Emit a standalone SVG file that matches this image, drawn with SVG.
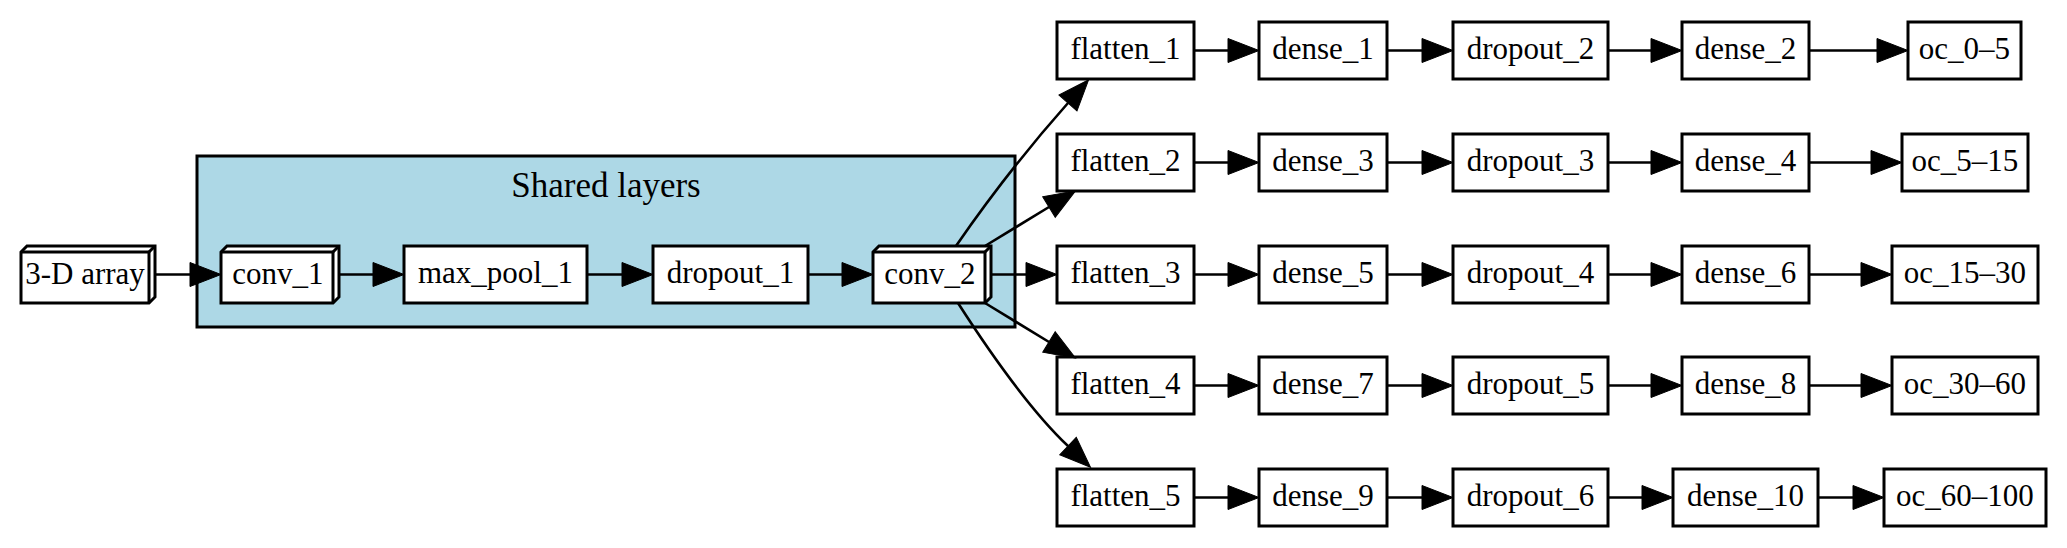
<svg xmlns="http://www.w3.org/2000/svg" width="2067" height="548" viewBox="0 0 2067 548">
<style>
  .bx { fill: #ffffff; stroke: #000000; stroke-width: 3; }
  .ln { fill: none; stroke: #000000; stroke-width: 3; }
  .t { font-family: "Liberation Serif", "Times New Roman", serif; font-size: 31px; fill: #000000; text-anchor: middle; }
  .ct { font-family: "Liberation Serif", "Times New Roman", serif; font-size: 35px; fill: #000000; text-anchor: middle; }
  .e { fill: none; stroke: #000000; stroke-width: 2.6; marker-end: url(#ah); }
</style>
<defs>
  <marker id="ah" markerUnits="userSpaceOnUse" viewBox="0 0 31 24" markerWidth="31" markerHeight="24" refX="0" refY="12" orient="auto" overflow="visible">
    <path d="M0,0 L31,12 L0,24 z" fill="#000000" stroke="#000000" stroke-width="1"/>
  </marker>
</defs>
<rect x="0" y="0" width="2067" height="548" fill="#ffffff"/>

<g id="cluster_shared">
  <rect x="197" y="156" width="818" height="171" fill="#add8e6" stroke="#000000" stroke-width="3"/>
  <text class="ct" x="606" y="197">Shared layers</text>
</g>

<g id="node_input">
  <polygon class="bx" points="21,252 27,246 155,246 155,297 149,303 21,303"/>
  <polyline class="ln" points="21,252 149,252 149,303"/>
  <line class="ln" x1="149" y1="252" x2="155" y2="246"/>
  <text class="t" x="85" y="284">3-D array</text>
</g>
<g id="node_conv_1">
  <polygon class="bx" points="221,252 227,246 339,246 339,297 333,303 221,303"/>
  <polyline class="ln" points="221,252 333,252 333,303"/>
  <line class="ln" x1="333" y1="252" x2="339" y2="246"/>
  <text class="t" x="278" y="284">conv_1</text>
</g>
<g id="node_max_pool_1">
  <rect class="bx" x="404" y="246" width="183" height="57"/>
  <text class="t" x="495.5" y="283">max_pool_1</text>
</g>
<g id="node_dropout_1">
  <rect class="bx" x="653" y="246" width="155" height="57"/>
  <text class="t" x="730.5" y="283">dropout_1</text>
</g>
<g id="node_conv_2">
  <polygon class="bx" points="873,252 879,246 991,246 991,297 985,303 873,303"/>
  <polyline class="ln" points="873,252 985,252 985,303"/>
  <line class="ln" x1="985" y1="252" x2="991" y2="246"/>
  <text class="t" x="930" y="284">conv_2</text>
</g>

<!-- row 1 -->
<g id="node_flatten_1"><rect class="bx" x="1057" y="22" width="137" height="57"/><text class="t" x="1125.5" y="59">flatten_1</text></g>
<g id="node_dense_1"><rect class="bx" x="1259" y="22" width="128" height="57"/><text class="t" x="1323" y="59">dense_1</text></g>
<g id="node_dropout_2"><rect class="bx" x="1453" y="22" width="155" height="57"/><text class="t" x="1530.5" y="59">dropout_2</text></g>
<g id="node_dense_2"><rect class="bx" x="1682" y="22" width="127" height="57"/><text class="t" x="1745.5" y="59">dense_2</text></g>
<g id="node_oc_0_5"><rect class="bx" x="1908" y="22" width="113" height="57"/><text class="t" x="1964.5" y="59">oc_0–5</text></g>

<!-- row 2 -->
<g id="node_flatten_2"><rect class="bx" x="1057" y="134" width="137" height="57"/><text class="t" x="1125.5" y="171">flatten_2</text></g>
<g id="node_dense_3"><rect class="bx" x="1259" y="134" width="128" height="57"/><text class="t" x="1323" y="171">dense_3</text></g>
<g id="node_dropout_3"><rect class="bx" x="1453" y="134" width="155" height="57"/><text class="t" x="1530.5" y="171">dropout_3</text></g>
<g id="node_dense_4"><rect class="bx" x="1682" y="134" width="127" height="57"/><text class="t" x="1745.5" y="171">dense_4</text></g>
<g id="node_oc_5_15"><rect class="bx" x="1902" y="134" width="126" height="57"/><text class="t" x="1965" y="171">oc_5–15</text></g>

<!-- row 3 -->
<g id="node_flatten_3"><rect class="bx" x="1057" y="246" width="137" height="57"/><text class="t" x="1125.5" y="283">flatten_3</text></g>
<g id="node_dense_5"><rect class="bx" x="1259" y="246" width="128" height="57"/><text class="t" x="1323" y="283">dense_5</text></g>
<g id="node_dropout_4"><rect class="bx" x="1453" y="246" width="155" height="57"/><text class="t" x="1530.5" y="283">dropout_4</text></g>
<g id="node_dense_6"><rect class="bx" x="1682" y="246" width="127" height="57"/><text class="t" x="1745.5" y="283">dense_6</text></g>
<g id="node_oc_15_30"><rect class="bx" x="1892" y="246" width="146" height="57"/><text class="t" x="1965" y="283">oc_15–30</text></g>

<!-- row 4 -->
<g id="node_flatten_4"><rect class="bx" x="1057" y="357" width="137" height="57"/><text class="t" x="1125.5" y="394">flatten_4</text></g>
<g id="node_dense_7"><rect class="bx" x="1259" y="357" width="128" height="57"/><text class="t" x="1323" y="394">dense_7</text></g>
<g id="node_dropout_5"><rect class="bx" x="1453" y="357" width="155" height="57"/><text class="t" x="1530.5" y="394">dropout_5</text></g>
<g id="node_dense_8"><rect class="bx" x="1682" y="357" width="127" height="57"/><text class="t" x="1745.5" y="394">dense_8</text></g>
<g id="node_oc_30_60"><rect class="bx" x="1892" y="357" width="146" height="57"/><text class="t" x="1965" y="394">oc_30–60</text></g>

<!-- row 5 -->
<g id="node_flatten_5"><rect class="bx" x="1057" y="469" width="137" height="57"/><text class="t" x="1125.5" y="506">flatten_5</text></g>
<g id="node_dense_9"><rect class="bx" x="1259" y="469" width="128" height="57"/><text class="t" x="1323" y="506">dense_9</text></g>
<g id="node_dropout_6"><rect class="bx" x="1453" y="469" width="155" height="57"/><text class="t" x="1530.5" y="506">dropout_6</text></g>
<g id="node_dense_10"><rect class="bx" x="1673" y="469" width="145" height="57"/><text class="t" x="1745.5" y="506">dense_10</text></g>
<g id="node_oc_60_100"><rect class="bx" x="1884" y="469" width="162" height="57"/><text class="t" x="1965" y="506">oc_60–100</text></g>

<g id="edges">
  <path class="e" d="M155,274.5 H190"/>
  <path class="e" d="M339,274.5 H373"/>
  <path class="e" d="M587,274.5 H622"/>
  <path class="e" d="M808,274.5 H842"/>
  <path class="e" d="M956,246 C992,194 1036,139 1068,103"/>
  <path class="e" d="M985,246 L1049,207"/>
  <path class="e" d="M991,274.5 H1026"/>
  <path class="e" d="M985,303 L1049,342"/>
  <path class="e" d="M958,303 C985,345 1030,410 1068,446"/>

  <path class="e" d="M1194,50.5 H1228"/>
  <path class="e" d="M1387,50.5 H1422"/>
  <path class="e" d="M1608,50.5 H1651"/>
  <path class="e" d="M1809,50.5 H1877"/>

  <path class="e" d="M1194,162.5 H1228"/>
  <path class="e" d="M1387,162.5 H1422"/>
  <path class="e" d="M1608,162.5 H1651"/>
  <path class="e" d="M1809,162.5 H1871"/>

  <path class="e" d="M1194,274.5 H1228"/>
  <path class="e" d="M1387,274.5 H1422"/>
  <path class="e" d="M1608,274.5 H1651"/>
  <path class="e" d="M1809,274.5 H1861"/>

  <path class="e" d="M1194,385.5 H1228"/>
  <path class="e" d="M1387,385.5 H1422"/>
  <path class="e" d="M1608,385.5 H1651"/>
  <path class="e" d="M1809,385.5 H1861"/>

  <path class="e" d="M1194,497.5 H1228"/>
  <path class="e" d="M1387,497.5 H1422"/>
  <path class="e" d="M1608,497.5 H1642"/>
  <path class="e" d="M1818,497.5 H1853"/>
</g>
</svg>
